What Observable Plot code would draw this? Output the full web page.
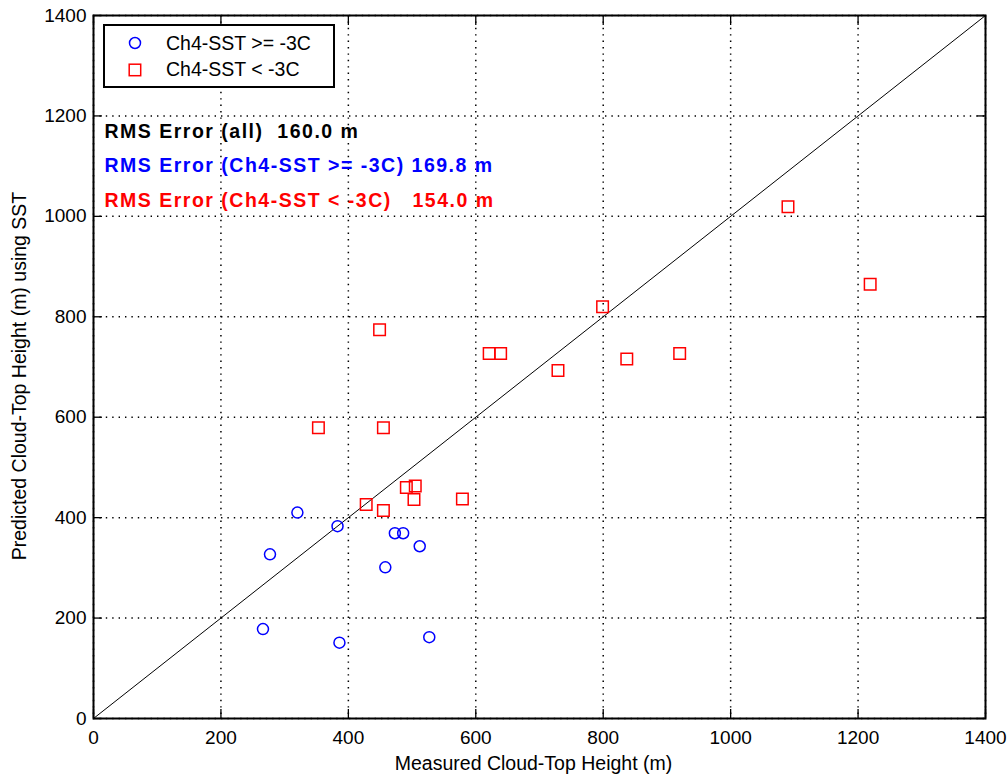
<!DOCTYPE html>
<html><head><meta charset="utf-8">
<script src="https://cdn.jsdelivr.net/npm/d3@7"></script>
<script src="https://cdn.jsdelivr.net/npm/@observablehq/plot@0.6"></script>
<style>
body{margin:0;background:#fff;}
#wrap{position:relative;width:1008px;height:778px;font-family:"Liberation Sans",Arial,sans-serif;}
#legend{position:absolute;left:103px;top:24px;width:228px;height:60px;border:2px solid #000;background:#fff;}
#legend svg{position:absolute;left:0;top:0;}
.rms text{white-space:pre;letter-spacing:1.5px;}
</style></head><body><div id="wrap"></div>
<script>
const ticks = [0, 200, 400, 600, 800, 1000, 1200, 1400];
// Ch4-SST >= -3C (blue circles)
const blueX = [266, 277, 320, 383, 386, 458, 473, 486, 512, 527];
const blueY = [178, 327, 410, 383, 151, 301, 369, 369, 343, 162];
// Ch4-SST < -3C (red squares)
const redX = [449, 455, 353, 621, 639, 729, 799, 837, 920, 428, 455, 491, 505, 503, 579, 1090, 1219];
const redY = [774, 579, 579, 727, 727, 693, 820, 716, 727, 426, 414, 460, 463, 436, 437, 1019, 865];
const oneToOne = [0, 1400];
const rmsLabels = ["RMS Error (all)  160.0 m", "RMS Error (Ch4-SST >= -3C) 169.8 m", "RMS Error (Ch4-SST < -3C)   154.0 m"];
const rmsColors = ["#000000", "#0000ff", "#ff0000"];
const legendLabels = ["Ch4-SST >= -3C", "Ch4-SST < -3C"];
const xTitle = "Measured Cloud-Top Height (m)";
const yTitle = "Predicted Cloud-Top Height (m) using SST";

const blue = blueX.map((x, i) => ({x, y: blueY[i]}));
const red = redX.map((x, i) => ({x, y: redY[i]}));
const font = "'Liberation Sans', Arial, sans-serif";
const gridStyle = {stroke: "#000", strokeOpacity: 1, strokeWidth: 1.5, strokeDasharray: "1.4,5"};
const rmsDy = [116.5, 150.7, 185];
const fmt = d => String(d);
const noText = () => "";
const T = 9;

const plot = Plot.plot({
  width: 1008, height: 778,
  marginLeft: 93, marginRight: 23, marginTop: 15, marginBottom: 60,
  x: {domain: [0, 1400]},
  y: {domain: [0, 1400]},
  style: {fontFamily: font, fontSize: "19px", background: "#fff", color: "#000"},
  marks: [
    Plot.gridX(ticks, gridStyle),
    Plot.gridY(ticks, gridStyle),
    Plot.axisX(ticks, {anchor: "bottom", tickSize: 0, tickPadding: 12, label: null, fontSize: 19, tickFormat: fmt}),
    Plot.axisY(ticks, {anchor: "left", tickSize: 0, tickPadding: 7, label: null, fontSize: 19, tickFormat: fmt}),
    Plot.axisX(ticks, {anchor: "bottom", tickSize: T, dy: -T, tickFormat: noText, label: null, strokeWidth: 1.3}),
    Plot.axisX(ticks, {anchor: "top", tickSize: T, dy: T, tickFormat: noText, label: null, strokeWidth: 1.3}),
    Plot.axisY(ticks, {anchor: "left", tickSize: T, dx: T, tickFormat: noText, label: null, strokeWidth: 1.3}),
    Plot.axisY(ticks, {anchor: "right", tickSize: T, dx: -T, tickFormat: noText, label: null, strokeWidth: 1.3}),
    Plot.line(oneToOne, {x: d => d, y: d => d, stroke: "#000", strokeWidth: 1}),
    Plot.dot(blue, {x: "x", y: "y", r: 5.5, symbol: "circle", stroke: "#0000ff", strokeWidth: 1.5, fill: "none"}),
    Plot.dot(red, {x: "x", y: "y", r: 6.5, symbol: "square", stroke: "#ff0000", strokeWidth: 1.5, fill: "none"}),
    ...rmsLabels.map((t, i) => Plot.text([t], {
      text: d => d, frameAnchor: "top-left", textAnchor: "start", lineAnchor: "middle",
      dx: 11, dy: rmsDy[i], fill: rmsColors[i], fontWeight: "bold", fontSize: 19.5, className: "rms"
    })),
    Plot.text([xTitle], {text: d => d, frameAnchor: "bottom", textAnchor: "middle", lineAnchor: "middle", dx: -6, dy: 45.5, fontSize: 19.5}),
    Plot.text([yTitle], {text: d => d, frameAnchor: "left", textAnchor: "middle", lineAnchor: "middle", rotate: -90, dx: -74, dy: 9, fontSize: 19.5}),
    Plot.frame({stroke: "#000", strokeWidth: 2})
  ]
});

const wrap = document.getElementById("wrap");
wrap.appendChild(plot);

// Legend box
const lg = document.createElement("div");
lg.id = "legend";
const ns = "http://www.w3.org/2000/svg";
const lsvg = document.createElementNS(ns, "svg");
lsvg.setAttribute("width", 228); lsvg.setAttribute("height", 60);
const c = document.createElementNS(ns, "circle");
c.setAttribute("cx", 30); c.setAttribute("cy", 17); c.setAttribute("r", 5.5);
c.setAttribute("fill", "none"); c.setAttribute("stroke", "#0000ff"); c.setAttribute("stroke-width", 1.5);
lsvg.appendChild(c);
const s = document.createElementNS(ns, "rect");
s.setAttribute("x", 24.2); s.setAttribute("y", 38.2); s.setAttribute("width", 11.5); s.setAttribute("height", 11.5);
s.setAttribute("fill", "none"); s.setAttribute("stroke", "#ff0000"); s.setAttribute("stroke-width", 1.5);
lsvg.appendChild(s);
legendLabels.forEach((t, i) => {
  const tx = document.createElementNS(ns, "text");
  tx.setAttribute("x", 61); tx.setAttribute("y", i === 0 ? 23.5 : 50);
  tx.setAttribute("font-family", font); tx.setAttribute("font-size", 19.5);
  tx.textContent = t;
  lsvg.appendChild(tx);
});
lg.appendChild(lsvg);
wrap.appendChild(lg);
</script>
</body></html>
